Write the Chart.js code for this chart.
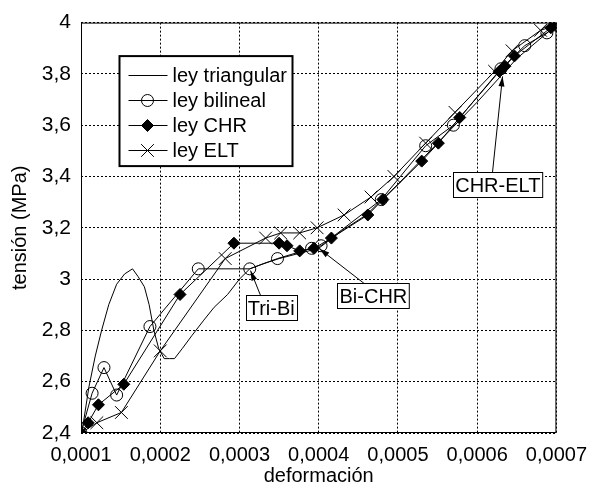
<!DOCTYPE html>
<html>
<head>
<meta charset="utf-8">
<script src="https://cdn.jsdelivr.net/npm/chart.js@4.4.1/dist/chart.umd.min.js"></script>
<style>
  body { margin: 0; background: #fff; }
</style>
</head>
<body>
<canvas id="c" width="597" height="488"></canvas>
<script>
// ley triangular (no markers)
var triX = [0.0001, 0.000102, 0.00011, 0.000118, 0.000126, 0.000135, 0.000145, 0.000155, 0.000165,
            0.000172, 0.00018, 0.000186, 0.000192, 0.000198, 0.000205, 0.000212, 0.000218, 0.000228,
            0.00024, 0.000255, 0.000268, 0.000285, 0.0003, 0.000313, 0.00033, 0.00035, 0.000375,
            0.0004, 0.00043, 0.00046, 0.0005, 0.00055, 0.0006, 0.00065, 0.0007]
var triY = [2.40, 2.42, 2.58, 2.70, 2.80, 2.90, 2.98, 3.02, 3.04,
            3.01, 2.97, 2.90, 2.80, 2.73, 2.69, 2.69, 2.69, 2.73,
            2.78, 2.84, 2.89, 2.94, 3.00, 3.04, 3.06, 3.08, 3.10,
            3.12, 3.19, 3.25, 3.37, 3.53, 3.69, 3.86, 3.99]

// ley bilineal (circles)
var biX = [0.0001, 0.000114, 0.000129, 0.000145, 0.000187, 0.000248, 0.000313, 0.000348, 0.000391,
           0.000403, 0.000479, 0.000535, 0.00057, 0.00063, 0.00066, 0.000688, 0.0007]
var biY = [2.40, 2.555, 2.655, 2.548, 2.815, 3.04, 3.04, 3.08, 3.12,
           3.13, 3.31, 3.52, 3.60, 3.82, 3.91, 3.96, 3.99]

// ley CHR (diamonds)
var chrX = [0.0001, 0.000109, 0.000122, 0.000154, 0.000225, 0.000293, 0.00035, 0.00036, 0.000376,
            0.000394, 0.000416, 0.000462, 0.000481, 0.00053, 0.000551, 0.000578, 0.000628, 0.000635,
            0.000647, 0.000693, 0.0007]
var chrY = [2.40, 2.44, 2.51, 2.59, 2.94, 3.14, 3.14, 3.13, 3.11,
            3.12, 3.16, 3.25, 3.31, 3.46, 3.53, 3.63, 3.81, 3.83,
            3.87, 3.98, 3.99]

// ley ELT (crosses)
var eltX = [0.0001, 0.00012, 0.000151, 0.0002, 0.000282, 0.000333, 0.000352, 0.000376, 0.000398,
            0.000432, 0.000466, 0.000495, 0.000535, 0.000572, 0.000622, 0.000644, 0.00068, 0.0007]
var eltY = [2.40, 2.44, 2.48, 2.72, 3.08, 3.16, 3.18, 3.18, 3.20,
            3.25, 3.32, 3.40, 3.53, 3.65, 3.81, 3.89, 3.97, 3.99]

var seriesNames = ['ley triangular', 'ley bilineal', 'ley CHR', 'ley ELT']

// labelled arrows: box centre, arrow tail x on box top, arrow tip
var notes = [
  { text: 'Tri-Bi',  x: 0.00034,  y: 2.889, tailX: 0.0003266, tipX: 0.000314, tipY: 3.033 },
  { text: 'Bi-CHR',  x: 0.000469, y: 2.936, tailX: 0.0004574, tipX: 0.000401, tipY: 3.118 },
  { text: 'CHR-ELT', x: 0.000626, y: 3.367, tailX: 0.0006193, tipX: 0.000632, tipY: 3.79 }
]

var FONT = '"Liberation Sans", Arial, sans-serif'

function pts(xs, ys) {
  return xs.map(function (x, i) { return { x: x, y: ys[i] } })
}

function comma(v, d) {
  return String(Number(v.toFixed(d))).replace('.', ',')
}

var markers = [
  { pointStyle: 'line', radius: 0, fill: '#000' },
  { pointStyle: 'circle', radius: 6, fill: 'rgba(255,255,255,0)' },
  { pointStyle: 'rectRot', radius: 6, fill: '#000' },
  { pointStyle: 'crossRot', radius: 9, fill: '#000' }
]

var extras = {
  id: 'extras',
  afterDraw: function (chart) {
    var ctx = chart.ctx, a = chart.chartArea
    var xs = chart.scales.x, ys = chart.scales.y
    ctx.save()
    ctx.strokeStyle = '#000'
    ctx.fillStyle = '#000'
    ctx.lineWidth = 1

    // frame
    ctx.strokeRect(a.left + 0.5, a.top + 0.5, a.right - a.left - 1, a.bottom - a.top - 1)

    // notes with arrows
    ctx.font = '20px ' + FONT
    ctx.textAlign = 'center'
    ctx.textBaseline = 'middle'
    notes.forEach(function (n) {
      var cx = xs.getPixelForValue(n.x), cy = ys.getPixelForValue(n.y)
      var w = ctx.measureText(n.text).width + 4, h = 25
      var bx = Math.round(cx - w / 2) + 0.5, by = Math.round(cy - h / 2) + 0.5
      var tx = xs.getPixelForValue(n.tailX), ty = by
      var px = xs.getPixelForValue(n.tipX), py = ys.getPixelForValue(n.tipY)
      ctx.beginPath()
      ctx.moveTo(tx, ty)
      ctx.lineTo(px, py)
      ctx.stroke()
      var ang = Math.atan2(py - ty, px - tx)
      ctx.beginPath()
      ctx.moveTo(px, py)
      ctx.lineTo(px - 10 * Math.cos(ang) + 3 * Math.sin(ang), py - 10 * Math.sin(ang) - 3 * Math.cos(ang))
      ctx.lineTo(px - 10 * Math.cos(ang) - 3 * Math.sin(ang), py - 10 * Math.sin(ang) + 3 * Math.cos(ang))
      ctx.closePath()
      ctx.fill()
      ctx.fillStyle = '#fff'
      ctx.fillRect(bx, by, w, h)
      ctx.strokeRect(bx, by, w, h)
      ctx.fillStyle = '#000'
      ctx.fillText(n.text, cx, by + h / 2 + 1)
    })

    // legend
    var lx = a.left + 38.5, ly = a.top + 33.5, lw = 173, lh = 110
    ctx.fillStyle = '#fff'
    ctx.fillRect(lx, ly, lw, lh)
    ctx.lineWidth = 2
    ctx.strokeRect(lx, ly, lw, lh)
    ctx.lineWidth = 1
    ctx.textAlign = 'left'
    seriesNames.forEach(function (name, i) {
      var y = Math.round(ly + 19 + i * 25) + 0.5
      ctx.strokeStyle = '#000'
      ctx.beginPath()
      ctx.moveTo(lx + 9, y)
      ctx.lineTo(lx + 48, y)
      ctx.stroke()
      var m = markers[i]
      if (m.radius) {
        ctx.fillStyle = m.fill
        Chart.helpers.drawPoint(ctx, { pointStyle: m.pointStyle, radius: m.radius, rotation: 0, borderWidth: 1 }, lx + 28, y)
      }
      ctx.fillStyle = '#000'
      ctx.fillText(name, lx + 53, y + 1)
    })
    ctx.restore()
  }
}

var allX = [triX, biX, chrX, eltX]
var allY = [triY, biY, chrY, eltY]

new Chart(document.getElementById('c'), {
  type: 'scatter',
  data: {
    datasets: seriesNames.map(function (name, i) {
      var m = markers[i]
      return {
        label: name,
        data: pts(allX[i], allY[i]),
        showLine: true,
        borderColor: '#000',
        borderWidth: 1,
        backgroundColor: m.fill,
        pointStyle: m.pointStyle,
        pointRadius: m.radius,
        pointBorderWidth: 1,
        pointBorderColor: '#000',
        pointBackgroundColor: m.fill,
        pointHoverRadius: m.radius,
        tension: 0
      }
    })
  },
  options: {
    responsive: false,
    animation: false,
    layout: { padding: { left: 0, right: 34, top: 21, bottom: 0 } },
    plugins: {
      legend: { display: false },
      tooltip: { enabled: false }
    },
    scales: {
      x: {
        type: 'linear',
        min: 0.0001,
        max: 0.0007,
        afterFit: function (s) { s.height = 55 },
        ticks: {
          stepSize: 0.0001,
          color: '#000',
          padding: 10,
          maxRotation: 0,
          font: { family: FONT, size: 20 },
          callback: function (v) { return comma(v, 4) }
        },
        grid: { color: '#000', lineWidth: 1, drawTicks: false },
        border: { display: false, dash: [2, 2] },
        title: {
          display: true,
          text: 'deformación',
          color: '#000',
          font: { family: FONT, size: 20 },
          padding: { top: 0, bottom: 0 }
        }
      },
      y: {
        min: 2.4,
        max: 4,
        afterFit: function (s) { s.width = 81 },
        ticks: {
          stepSize: 0.2,
          color: '#000',
          padding: 10,
          font: { family: FONT, size: 21 },
          callback: function (v) { return comma(v, 1) }
        },
        grid: { color: '#000', lineWidth: 1, drawTicks: false },
        border: { display: false, dash: [2, 2] },
        title: {
          display: true,
          text: 'tensión (MPa)',
          color: '#000',
          font: { family: FONT, size: 20 },
          padding: { top: 8, bottom: 0 }
        }
      }
    }
  },
  plugins: [extras]
})
</script>
</body>
</html>
